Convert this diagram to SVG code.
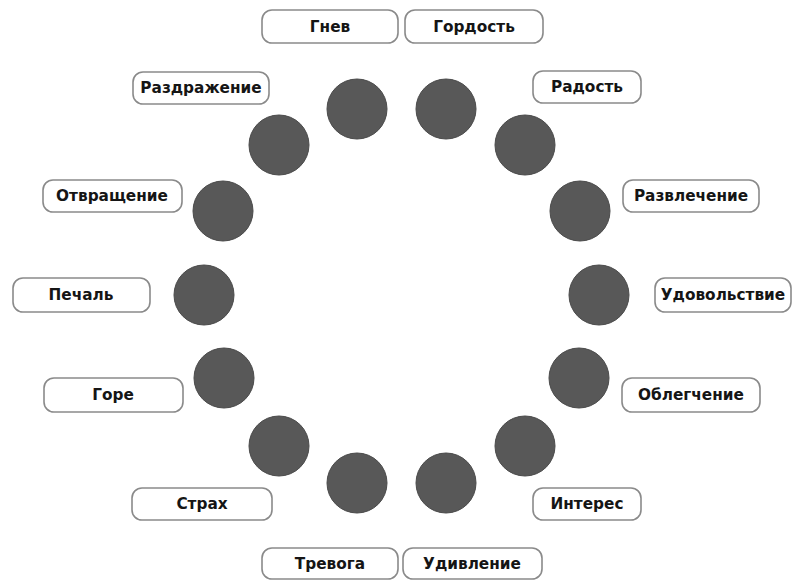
<svg xmlns="http://www.w3.org/2000/svg" width="792" height="580" viewBox="0 0 792 580">
<style>
.b{fill:#fff;stroke:#8a8a8a;stroke-width:1.6}
.t{font-family:"DejaVu Sans",Verdana,sans-serif;font-weight:bold;font-size:15.3px;fill:#151515;text-anchor:middle;dominant-baseline:central}
.c{fill:#585858;stroke:#4a4a4a;stroke-width:1}
</style>
<rect width="792" height="580" fill="#fff"/>
<g id="circles">
<circle class="c" cx="357" cy="109" r="30"/>
<circle class="c" cx="446" cy="109" r="30"/>
<circle class="c" cx="279" cy="145" r="30"/>
<circle class="c" cx="525" cy="145" r="30"/>
<circle class="c" cx="223" cy="211" r="30"/>
<circle class="c" cx="580" cy="211" r="30"/>
<circle class="c" cx="204" cy="295" r="30"/>
<circle class="c" cx="599" cy="295" r="30"/>
<circle class="c" cx="224" cy="378" r="30"/>
<circle class="c" cx="579" cy="378" r="30"/>
<circle class="c" cx="279" cy="446" r="30"/>
<circle class="c" cx="525" cy="446" r="30"/>
<circle class="c" cx="357" cy="483" r="30"/>
<circle class="c" cx="446" cy="483" r="30"/>
</g>
<g id="connectors"></g>
<g id="n-gnev"><rect class="b" x="262" y="10" width="136" height="33" rx="10"/><text class="t" x="330" y="27">Гнев</text></g>
<g id="n-gordost"><rect class="b" x="405" y="10" width="138" height="33" rx="10"/><text class="t" x="474" y="27">Гордость</text></g>
<g id="n-razdrazhenie"><rect class="b" x="133" y="72" width="136" height="32" rx="10"/><text class="t" x="201" y="88">Раздражение</text></g>
<g id="n-radost"><rect class="b" x="533" y="71" width="108" height="32" rx="10"/><text class="t" x="587" y="87">Радость</text></g>
<g id="n-otvrashchenie"><rect class="b" x="43" y="180" width="139" height="32" rx="10"/><text class="t" x="112" y="196">Отвращение</text></g>
<g id="n-razvlechenie"><rect class="b" x="623" y="180" width="136" height="32" rx="10"/><text class="t" x="691" y="196">Развлечение</text></g>
<g id="n-pechal"><rect class="b" x="13" y="278" width="137" height="34" rx="10"/><text class="t" x="81" y="295">Печаль</text></g>
<g id="n-udovolstvie"><rect class="b" x="655" y="278" width="136" height="34" rx="10"/><text class="t" x="723" y="295">Удовольствие</text></g>
<g id="n-gore"><rect class="b" x="44" y="378" width="139" height="34" rx="10"/><text class="t" x="113" y="395">Горе</text></g>
<g id="n-oblegchenie"><rect class="b" x="622" y="378" width="138" height="34" rx="10"/><text class="t" x="691" y="395">Облегчение</text></g>
<g id="n-strakh"><rect class="b" x="132" y="488" width="140" height="32" rx="10"/><text class="t" x="202" y="504">Страх</text></g>
<g id="n-interes"><rect class="b" x="533" y="488" width="108" height="32" rx="10"/><text class="t" x="587" y="504">Интерес</text></g>
<g id="n-trevoga"><rect class="b" x="262" y="548" width="136" height="31" rx="10"/><text class="t" x="330" y="563.5">Тревога</text></g>
<g id="n-udivlenie"><rect class="b" x="403" y="548" width="139" height="31" rx="10"/><text class="t" x="472" y="563.5">Удивление</text></g>
</svg>
